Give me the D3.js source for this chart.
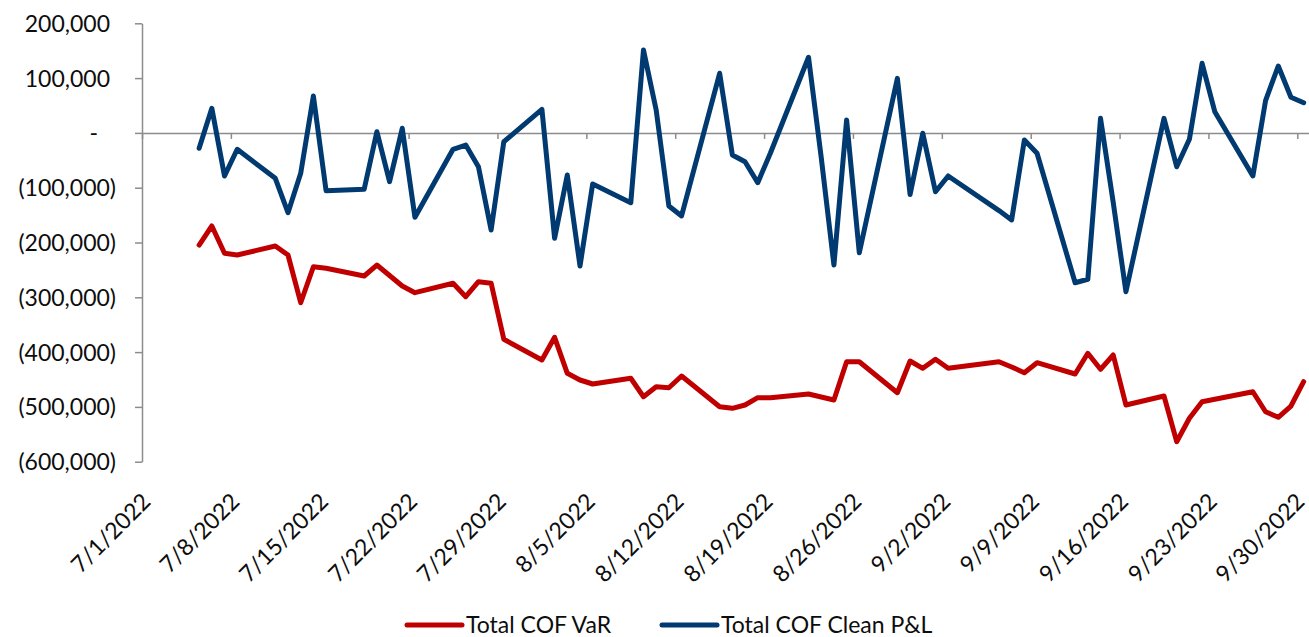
<!DOCTYPE html>
<html>
<head>
<meta charset="utf-8">
<script src="https://cdn.jsdelivr.net/npm/d3@7/dist/d3.min.js"></script>
<style>
  html, body { margin: 0; padding: 0; background: #ffffff; }
  svg { display: block; }
  text { font-family: Lato, "Open Sans", sans-serif; fill: #0d0d0d; }
</style>
</head>
<body>
<svg id="chart" width="1309" height="637"></svg>
<script>
// ---------------- data ----------------
const dates = [
  "2022-07-05","2022-07-06","2022-07-07","2022-07-08",
  "2022-07-11","2022-07-12","2022-07-13","2022-07-14","2022-07-15",
  "2022-07-18","2022-07-19","2022-07-20","2022-07-21","2022-07-22",
  "2022-07-25","2022-07-26","2022-07-27","2022-07-28","2022-07-29",
  "2022-08-01","2022-08-02","2022-08-03","2022-08-04","2022-08-05",
  "2022-08-08","2022-08-09","2022-08-10","2022-08-11","2022-08-12",
  "2022-08-15","2022-08-16","2022-08-17","2022-08-18","2022-08-19",
  "2022-08-22","2022-08-23","2022-08-24","2022-08-25","2022-08-26",
  "2022-08-29","2022-08-30","2022-08-31","2022-09-01","2022-09-02",
  "2022-09-06","2022-09-07","2022-09-08","2022-09-09",
  "2022-09-12","2022-09-13","2022-09-14","2022-09-15","2022-09-16",
  "2022-09-19","2022-09-20","2022-09-21","2022-09-22","2022-09-23",
  "2022-09-26","2022-09-27","2022-09-28","2022-09-29","2022-09-30"
];

const varValues = [
  -204600,-169900,-219700,-222800,
  -206400,-222800,-309900,-244200,-247100,
  -261100,-241100,-260200,-279400,-291600,
  -274400,-298900,-271500,-274400,-376600,
  -414400,-373000,-438700,-450900,-458200,
  -447800,-481400,-463100,-465000,-443600,
  -499600,-502600,-496500,-483200,-483200,
  -476500,-481900,-487400,-417500,-417500,
  -474100,-416200,-429600,-413100,-429600,
  -417500,-427200,-437600,-419300,
  -440000,-402200,-431400,-405300,-496500,
  -480100,-563500,-520800,-490500,-486100,
  -472300,-508800,-519000,-498400,-454000
];

const pnlValues = [
  -28100,44900,-78600,-29900,
  -82800,-145600,-73700,67300,-105500,
  -102900,2200,-89000,8400,-154000,
  -29900,-22100,-61700,-177200,-16100,
  43100,-192300,-76800,-242900,-93200,
  -127400,151300,41800,-133400,-151600,
  108800,-40300,-52600,-90900,-36700,
  138000,-44700,-241100,23500,-218600,
  99600,-112400,-700,-107300,-78600,
  -141800,-158900,-13000,-37200,
  -273400,-267100,26600,-126600,-289800,
  26600,-61700,-11700,127000,38700,
  -78600,58800,122100,65000,55100
];

const xTickLabels = [
  "7/1/2022","7/8/2022","7/15/2022","7/22/2022","7/29/2022","8/5/2022",
  "8/12/2022","8/19/2022","8/26/2022","9/2/2022","9/9/2022","9/16/2022",
  "9/23/2022","9/30/2022"
];

const yTicks = [200000, 100000, 0, -100000, -200000, -300000, -400000, -500000, -600000];

const seriesNames = ["Total COF VaR", "Total COF Clean P&L"];
const seriesColors = ["#C00000", "#003A70"];

// ---------------- chart ----------------
const svg = d3.select("#chart");
const parseDate = d3.timeParse("%Y-%m-%d");
const parseTick = d3.timeParse("%m/%d/%Y");

const x = d3.scaleTime()
  .domain([new Date(2022, 6, 1), new Date(2022, 9, 1)])
  .range([142, 1310]);

const y = d3.scaleLinear()
  .domain([-600000, 200000])
  .range([461.7, 23.3]);

const axisColor = "#8c8c8c";
const fs = 23;

// y axis
const fmt = d3.format(",");
const yAxis = svg.append("g")
  .attr("transform", "translate(142,0)")
  .call(d3.axisLeft(y).tickValues(yTicks).tickSize(7).tickSizeOuter(0).tickFormat(d => {
    if (d === 0) return "-";
    if (d < 0) return "(" + fmt(-d) + ")";
    return fmt(d);
  }));
yAxis.select(".domain").attr("stroke", axisColor).attr("stroke-width", 1.5);
yAxis.selectAll(".tick line").attr("stroke", axisColor).attr("stroke-width", 1.5);
yAxis.selectAll(".tick text")
  .attr("font-size", fs)
  .attr("font-family", "Lato, sans-serif")
  .attr("fill", "#0d0d0d")
  .attr("dy", "0.35em")
  .attr("x", d => d < 0 ? -26 : (d === 0 ? -44 : -32));

// x axis at zero
const xTickDates = xTickLabels.map(s => parseTick(s));
const xAxis = svg.append("g")
  .attr("transform", `translate(0,${y(0)})`)
  .call(d3.axisBottom(x).tickValues(xTickDates).tickSize(6).tickSizeOuter(0).tickFormat(""));
xAxis.select(".domain").attr("stroke", axisColor).attr("stroke-width", 1.5);
xAxis.selectAll(".tick line").attr("stroke", axisColor).attr("stroke-width", 1.5);

// x tick labels at bottom, rotated
svg.append("g").selectAll("text")
  .data(xTickDates)
  .join("text")
  .attr("transform", (d, i) => `translate(${Math.min(x(d) + 10, 1306)},503) rotate(-45)`)
  .attr("text-anchor", "end")
  .attr("font-size", fs)
  .text((d, i) => xTickLabels[i]);

// lines
const mid = s => d3.timeHour.offset(parseDate(s), 12);
const line = d3.line()
  .x(d => x(mid(d.date)))
  .y(d => y(d.value));

const series = [varValues, pnlValues].map((vals, k) => ({
  name: seriesNames[k],
  color: seriesColors[k],
  points: dates.map((dt, i) => ({ date: dt, value: vals[i] }))
}));

svg.append("g").selectAll("path")
  .data(series)
  .join("path")
  .attr("d", s => line(s.points))
  .attr("fill", "none")
  .attr("stroke", s => s.color)
  .attr("stroke-width", 5)
  .attr("stroke-linejoin", "round")
  .attr("stroke-linecap", "round");

// legend
const legendX = [407, 662];
const lg = svg.append("g").selectAll("g")
  .data(series)
  .join("g")
  .attr("transform", (s, i) => `translate(${legendX[i]},625)`);
lg.append("line")
  .attr("x1", 0).attr("x2", 55).attr("y1", 0).attr("y2", 0)
  .attr("stroke", s => s.color)
  .attr("stroke-width", 5)
  .attr("stroke-linecap", "round");
lg.append("text")
  .attr("x", 59)
  .attr("dy", "0.35em")
  .attr("font-size", fs)
  .text(s => s.name);
</script>
</body>
</html>
